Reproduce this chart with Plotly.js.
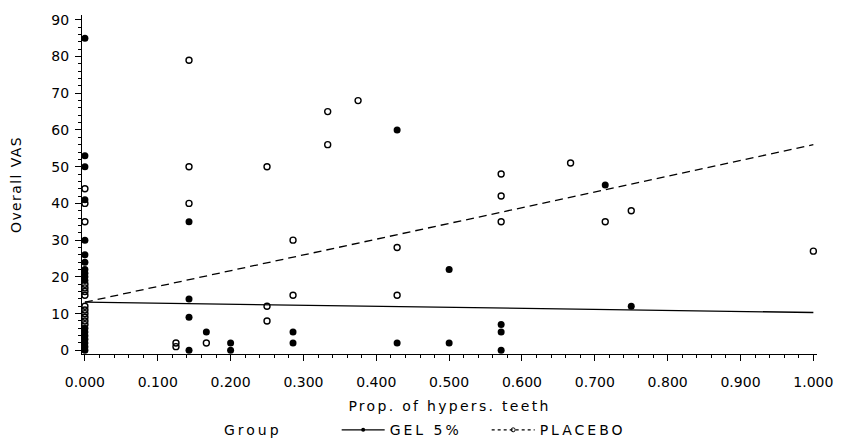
<!DOCTYPE html>
<html>
<head>
<meta charset="utf-8">
<script src="https://cdn.plot.ly/plotly-3.0.1.min.js"></script>
<style>
  html, body { margin: 0; padding: 0; background: #fff; }
  #chart { width: 845px; height: 439px; }
  text.xtitle { letter-spacing: 2.3px; }
  text.ytitle { letter-spacing: 1.4px; }
  text.legendtext, text.annotation-text { letter-spacing: 3px; }
</style>
</head>
<body>
<div id="chart"></div>
<script>
// ---- data ----
const gelX = [0,0,0,0,0,0,0,0,0,0,0,0,0,0,0,0,0,0,
  0.1429,0.1429,0.1429,0.1429, 0.1667, 0.2,0.2, 0.2857,0.2857,
  0.4286,0.4286, 0.5,0.5, 0.5714,0.5714,0.5714, 0.7143, 0.75];
const gelY = [85,53,50,41,30,26,24,22,21,20,19,6,5,4,3,2,1,0,
  35,14,9,0, 5, 2,0, 5,2,
  60,2, 22,2, 7,5,0, 45, 12];

const plaX = [0,0,0,0,0,0,0,0,0,0,0,0,0,
  0.125,0.125, 0.1429,0.1429,0.1429, 0.1667, 0.25,0.25,0.25,
  0.2857,0.2857, 0.3333,0.3333, 0.375, 0.4286,0.4286,
  0.5714,0.5714,0.5714, 0.6667, 0.7143, 0.75, 1.0];
const plaY = [44,40,35,18,17,16,15,12,11,10,9,8,7,
  2,1, 79,50,40, 2, 50,12,8,
  30,15, 65,56, 68, 28,15,
  48,42,35, 51, 35, 38, 27];

// fitted regression lines (values read at x = 0 and x = 1)
const fitX = [0, 1];
const gelFitY = [13.1, 10.3];
const plaFitY = [13.1, 56.0];

const groupNames = ['GEL 5%', 'PLACEBO'];
const xTickVals = [0,0.1,0.2,0.3,0.4,0.5,0.6,0.7,0.8,0.9,1.0];
const yTickVals = [0,10,20,30,40,50,60,70,80,90];

const FONT = 'DejaVu Sans, sans-serif';

const traces = [
  { x: fitX, y: gelFitY, type: 'scatter', mode: 'lines',
    line: { color: '#000', width: 1.3 }, showlegend: false, hoverinfo: 'skip' },
  { x: fitX, y: plaFitY, type: 'scatter', mode: 'lines',
    line: { color: '#000', width: 1.3, dash: '8px,5px' }, showlegend: false, hoverinfo: 'skip' },
  { x: gelX, y: gelY, type: 'scatter', mode: 'markers', name: groupNames[0],
    marker: { symbol: 'circle', size: 7, color: '#000', line: { width: 0 } },
    showlegend: false, cliponaxis: false },
  { x: plaX, y: plaY, type: 'scatter', mode: 'markers', name: groupNames[1],
    marker: { symbol: 'circle-open', size: 6, color: '#000', line: { width: 1.4, color: '#000' } },
    showlegend: false, cliponaxis: false },
  // legend samples
  { x: [null], y: [null], type: 'scatter', mode: 'lines+markers', name: groupNames[0],
    line: { color: '#000', width: 1.2 }, marker: { symbol: 'circle', size: 4, color: '#000' } },
  { x: [null], y: [null], type: 'scatter', mode: 'lines+markers', name: groupNames[1],
    line: { color: '#000', width: 1.2, dash: '3px,3px' },
    marker: { symbol: 'circle-open', size: 4, color: '#000', line: { width: 1, color: '#000' } } }
];

const layout = {
  width: 845, height: 439,
  margin: { l: 82, r: 28, t: 15, b: 84.5 },
  paper_bgcolor: '#fff', plot_bgcolor: '#fff',
  font: { family: FONT, size: 14, color: '#000' },
  showlegend: true,
  xaxis: {
    range: [-0.004, 1.005],
    tickvals: xTickVals, tickformat: '.3f',
    ticks: 'outside', ticklen: 6, tickwidth: 1, tickcolor: '#000',
    ticklabelstandoff: 9,
    minor: { dtick: 0.02, tick0: 0, ticks: 'outside', ticklen: 3, tickwidth: 1, tickcolor: '#000' },
    showline: true, linecolor: '#000', linewidth: 1,
    showgrid: false, zeroline: false, automargin: false,
    tickfont: { family: FONT, size: 14, color: '#000' },
    title: { text: 'Prop. of hypers. teeth', font: { family: FONT, size: 14, color: '#000' }, standoff: 14 }
  },
  yaxis: {
    range: [-1.0, 91.3],
    tickvals: yTickVals,
    ticks: 'outside', ticklen: 6, tickwidth: 1, tickcolor: '#000',
    ticklabelstandoff: 3,
    minor: { dtick: 2, tick0: 0, ticks: 'outside', ticklen: 3, tickwidth: 1, tickcolor: '#000' },
    showline: true, linecolor: '#000', linewidth: 1,
    showgrid: false, zeroline: false, automargin: false,
    tickfont: { family: FONT, size: 14, color: '#000' },
    title: { text: 'Overall VAS', font: { family: FONT, size: 14, color: '#000' }, standoff: 26 }
  },
  legend: {
    orientation: 'h', xref: 'paper', x: 0.3465, xanchor: 'left',
    yref: 'container', y: 0.02, yanchor: 'middle',
    font: { family: FONT, size: 14, color: '#000' },
    itemwidth: 43, entrywidth: 92, bgcolor: 'rgba(0,0,0,0)', borderwidth: 0,
    itemclick: false, itemdoubleclick: false
  },
  annotations: [{
    text: 'Group', xref: 'paper', yref: 'paper', x: 0.1905, y: -0.2235,
    xanchor: 'left', yanchor: 'middle', showarrow: false,
    font: { family: FONT, size: 14, color: '#000' }
  }]
};

Plotly.newPlot('chart', traces, layout, { displayModeBar: false, staticPlot: true });
</script>
</body>
</html>
